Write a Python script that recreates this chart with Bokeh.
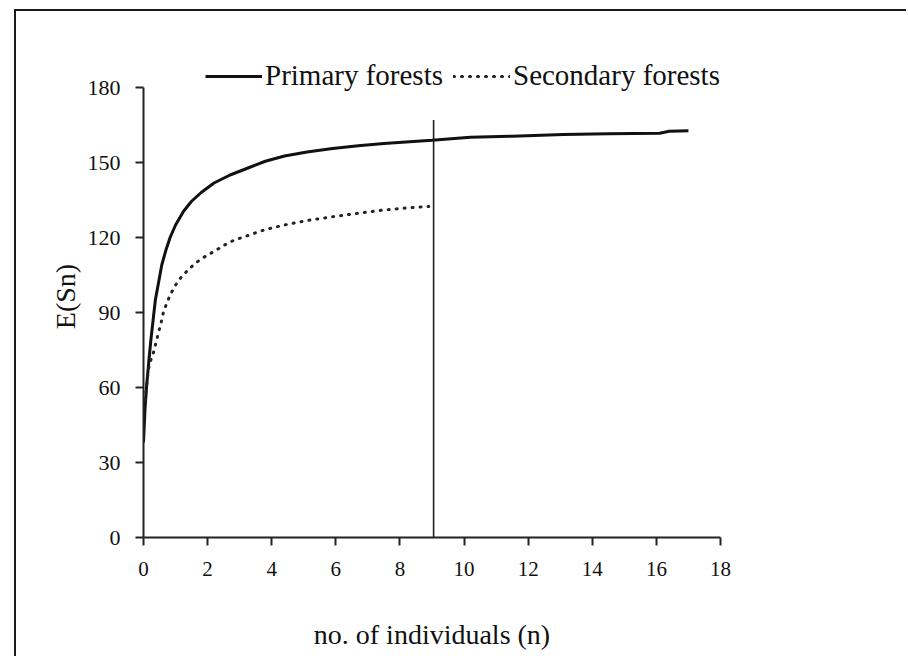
from bokeh.plotting import figure
from bokeh.models import Range1d, Legend, LegendItem
from bokeh.embed import file_html
from bokeh.resources import INLINE

# Expected number of species E(Sn) vs number of individuals (n)
primary_n = [0.0, 0.05, 0.1, 0.17, 0.23, 0.3, 0.37, 0.47, 0.57, 0.7, 0.83, 1.0, 1.25, 1.5, 1.8, 2.2,
             2.7, 3.3, 3.8, 4.4, 5.1, 5.9, 6.7, 7.5, 8.3, 9.0, 10.2, 11.5, 13.1, 14.5, 16.1, 16.4, 17.0]
primary_e = [38, 52, 61, 71, 79, 87, 95, 102, 109, 115, 120, 125, 130.5, 134.5, 138, 141.8,
             145, 148, 150.5, 152.6, 154.2, 155.6, 156.7, 157.6, 158.3, 158.9, 160.1, 160.5, 161.2, 161.5, 161.7, 162.5, 162.7]

secondary_n = [0.05, 0.1, 0.16, 0.23, 0.31, 0.39, 0.47, 0.55, 0.62, 0.72, 0.83, 1.0, 1.15, 1.35, 1.56, 1.8,
               2.2, 2.5, 2.8, 3.3, 3.8, 4.4, 5.1, 5.9, 6.7, 7.5, 8.2, 8.9]
secondary_e = [55, 61, 67.6, 71, 74, 78, 82, 86, 90, 93.5, 97, 101, 103.7, 106.5, 109, 111.5,
               114.4, 116.8, 118.8, 121, 123.2, 125, 126.8, 128.3, 129.7, 131, 131.8, 132.4]

x_ticks = [0, 2, 4, 6, 8, 10, 12, 14, 16, 18]
y_ticks = [0, 30, 60, 90, 120, 150, 180]

cutoff_n = 9.05
cutoff_top = 167

series_labels = ["Primary forests", "Secondary forests"]

FONT = "Liberation Serif"

# frame extends a little above 180 to leave room for the legend; the axis stops at 180
Y_TOP = 180 * 482 / 450

p = figure(width=892, height=647, x_range=Range1d(0, 18), y_range=Range1d(0, Y_TOP),
           output_backend="svg", toolbar_location=None,
           min_border_left=127, min_border_right=188, min_border_top=44, min_border_bottom=121,
           margin=(9, 0, 0, 14))
p.styles = {"border-top": "2px solid #1a1a1a", "border-left": "2px solid #1a1a1a"}
p.outline_line_color = None
p.xgrid.visible = False
p.ygrid.visible = False
p.background_fill_color = "white"
p.border_fill_color = "white"

r1 = p.line(primary_n, primary_e, line_color="#111111", line_width=3)
r2 = p.line(secondary_n, secondary_e, line_color="#222222", line_width=3,
            line_dash="1 7", line_cap="round")
p.segment(x0=[cutoff_n], y0=[0], x1=[cutoff_n], y1=[cutoff_top],
          line_color="#222222", line_width=1.6)

for ax, ticks in ((p.xaxis, x_ticks), (p.yaxis, y_ticks)):
    ax.ticker = ticks
    ax.major_tick_out = 8
    ax.major_tick_in = 0
    ax.minor_tick_line_color = None
    ax.axis_line_width = 2
    ax.axis_line_color = "#222222"
    ax.major_tick_line_width = 2
    ax.major_tick_line_color = "#222222"
    ax.major_label_text_font = FONT
    ax.major_label_text_font_size = "21px"
    ax.major_label_text_color = "#111111"
    ax.axis_label_text_font = FONT
    ax.axis_label_text_font_size = "28px"
    ax.axis_label_text_font_style = "normal"
    ax.axis_label_text_color = "#111111"

p.yaxis.major_label_text_font_size = "22px"
p.yaxis.bounds = (0, 180)
p.xaxis.axis_label = "no. of individuals (n)"
p.yaxis.axis_label = "E(Sn)"
p.xaxis.major_label_standoff = 16
p.yaxis.major_label_standoff = 15
p.xaxis.axis_label_standoff = 40
p.yaxis.axis_label_standoff = 4

legend = Legend(items=[LegendItem(label=series_labels[0], renderers=[r1]),
                       LegendItem(label=series_labels[1], renderers=[r2])],
                orientation="horizontal", location=(62, 445))
legend.label_text_font = FONT
legend.label_text_font_size = "29px"
legend.label_text_color = "#111111"
legend.glyph_width = 57
legend.glyph_height = 20
legend.label_standoff = 3
legend.spacing = 10
legend.padding = 0
legend.margin = 0
legend.border_line_color = None
legend.background_fill_alpha = 0
p.add_layout(legend)

open("out.html", "w").write(file_html(p, INLINE))
